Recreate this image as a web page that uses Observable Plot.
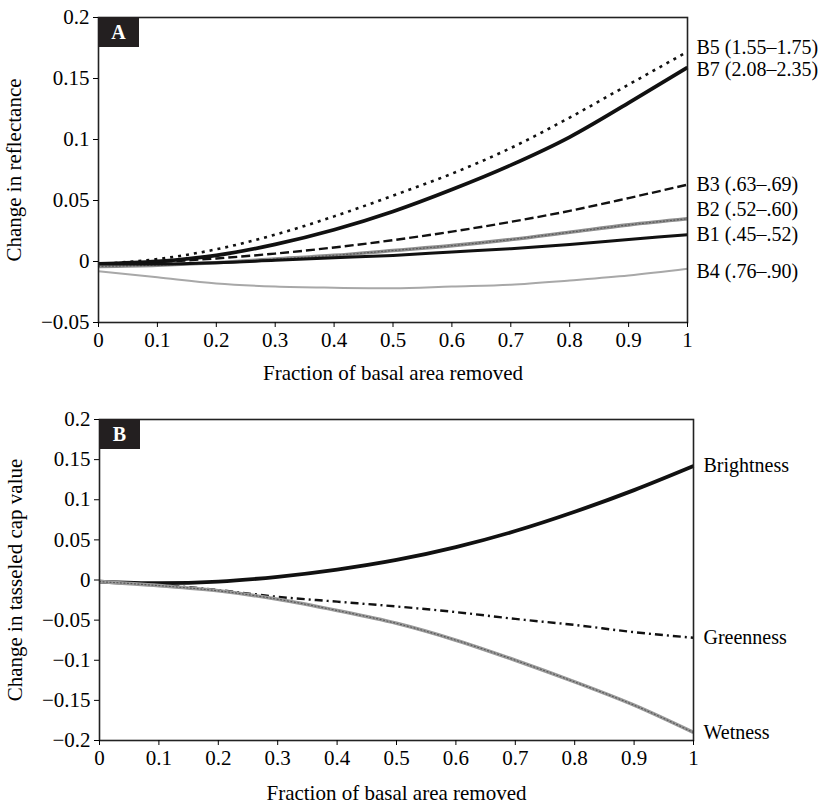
<!DOCTYPE html>
<html>
<head>
<meta charset="utf-8">
<script src="https://cdn.jsdelivr.net/npm/d3@7"></script>
<script src="https://cdn.jsdelivr.net/npm/@observablehq/plot@0.6"></script>
<style>
  html, body { margin: 0; padding: 0; background: white; }
  #chart svg { display: block; }
</style>
</head>
<body>
<div id="chart"></div>
<script>
// ---- Data ----
const fraction = [0, 0.1, 0.2, 0.3, 0.4, 0.5, 0.6, 0.7, 0.8, 0.9, 1];

// Panel A: change in reflectance by band
const bandNames = ["B5 (1.55–1.75)", "B7 (2.08–2.35)", "B3 (.63–.69)", "B2 (.52–.60)", "B1 (.45–.52)", "B4 (.76–.90)"];
const B5 = [-0.002, 0.002, 0.010, 0.022, 0.037, 0.054, 0.072, 0.093, 0.118, 0.145, 0.172];
const B7 = [-0.002, 0.000, 0.005, 0.014, 0.026, 0.041, 0.059, 0.079, 0.102, 0.130, 0.159];
const B3 = [-0.003, -0.0005, 0.0025, 0.0065, 0.0115, 0.0175, 0.0245, 0.0325, 0.0415, 0.052, 0.063];
const B2 = [-0.004, -0.003, -0.001, 0.002, 0.005, 0.009, 0.013, 0.018, 0.024, 0.030, 0.035];
const B1 = [-0.002, -0.002, -0.001, 0.001, 0.003, 0.005, 0.0078, 0.0105, 0.014, 0.018, 0.022];
const B4 = [-0.008, -0.013, -0.018, -0.0205, -0.0215, -0.022, -0.0205, -0.019, -0.0155, -0.0115, -0.006];

// Panel B: change in tasseled cap value
const capNames = ["Brightness", "Greenness", "Wetness"];
const brightness = [-0.002, -0.004, -0.002, 0.004, 0.013, 0.025, 0.041, 0.061, 0.085, 0.112, 0.142];
const greenness = [-0.002, -0.006, -0.0125, -0.021, -0.027, -0.033, -0.040, -0.0485, -0.056, -0.065, -0.072];
const wetness = [-0.002, -0.007, -0.0135, -0.024, -0.038, -0.054, -0.075, -0.100, -0.127, -0.156, -0.190];

const xTicks = [0, 0.1, 0.2, 0.3, 0.4, 0.5, 0.6, 0.7, 0.8, 0.9, 1];
const yTicksA = [-0.05, 0, 0.05, 0.1, 0.15, 0.2];
const yTicksB = [-0.2, -0.15, -0.1, -0.05, 0, 0.05, 0.1, 0.15, 0.2];

// ---- Styles ----
const stylesA = [
  {stroke: "#111", strokeWidth: 2.6, dash: "3,5", labelDy: -4},            // B5
  {stroke: "#111", strokeWidth: 3.8, dash: null, labelDy: 2},              // B7
  {stroke: "#111", strokeWidth: 2.4, dash: "9,4", labelDy: 0},             // B3
  {stroke: "#8e8e8e", strokeWidth: 3.6, dash: null, labelDy: -9, texture: true}, // B2
  {stroke: "#111", strokeWidth: 3.0, dash: null, labelDy: 0},              // B1
  {stroke: "#a8a8a8", strokeWidth: 2.0, dash: null, labelDy: 3}            // B4
];
const stylesB = [
  {stroke: "#111", strokeWidth: 3.8, dash: null},
  {stroke: "#111", strokeWidth: 2.4, dash: "8,4,2,4"},
  {stroke: "#9a9a9a", strokeWidth: 3.6, dash: null, texture: true}
];

const fmt = d3.format("~g");
const font = "Liberation Serif";

function rows(names, seriesList) {
  const out = [];
  names.forEach((name, i) => {
    seriesList[i].forEach((v, j) => out.push({series: name, x: fraction[j], y: v}));
  });
  return out;
}

function panelBox(letter) {
  return (index, scales, values, dims) => {
    const ns = "http://www.w3.org/2000/svg";
    const g = document.createElementNS(ns, "g");
    const r = document.createElementNS(ns, "rect");
    r.setAttribute("x", dims.marginLeft);
    r.setAttribute("y", dims.marginTop);
    r.setAttribute("width", 41);
    r.setAttribute("height", 30);
    r.setAttribute("fill", "#231f20");
    g.appendChild(r);
    const t = document.createElementNS(ns, "text");
    t.setAttribute("x", dims.marginLeft + 20.5);
    t.setAttribute("y", dims.marginTop + 22);
    t.setAttribute("text-anchor", "middle");
    t.setAttribute("fill", "white");
    t.setAttribute("font-weight", "bold");
    t.setAttribute("font-size", "20px");
    t.setAttribute("font-family", font);
    t.textContent = letter;
    g.appendChild(t);
    return g;
  };
}

function makePanel({names, seriesList, styles, yDomain, yTicks, yLabel, letter, height, margins, labelDx, xLabelOffset}) {
  const data = rows(names, seriesList);
  const marks = [];
  names.forEach((name, i) => {
    const s = styles[i];
    const sd = data.filter(d => d.series === name);
    marks.push(Plot.line(sd, {
      x: "x", y: "y", curve: "monotone-x",
      stroke: s.stroke, strokeWidth: s.strokeWidth,
      strokeDasharray: s.dash || undefined,
      strokeLinecap: "butt", strokeLinejoin: "round"
    }));
    if (s.texture) {
      marks.push(Plot.line(sd, {
        x: "x", y: "y", curve: "monotone-x",
        stroke: "#5a5a5a", strokeWidth: 1.2, strokeDasharray: "1,2.5"
      }));
    }
  });
  names.forEach((name, i) => {
    const s = styles[i];
    const last = seriesList[i][seriesList[i].length - 1];
    marks.push(Plot.text([{x: fraction[fraction.length - 1], y: last, t: name}], {
      x: "x", y: "y", text: "t", textAnchor: "start", dx: labelDx, dy: s.labelDy || 0,
      fontSize: 20, fontFamily: font, fill: "black"
    }));
  });
  marks.push(Plot.frame({stroke: "#222", strokeWidth: 1.6}));
  marks.push(Plot.axisY({ticks: yTicks, tickFormat: fmt, tickSize: 5, tickPadding: 4, fontSize: 21, fontFamily: font,
    label: yLabel, labelAnchor: "center", labelOffset: 92, labelArrow: "none"}));
  marks.push(Plot.axisX({ticks: xTicks, tickFormat: fmt, tickSize: 5, tickPadding: 5, fontSize: 21, fontFamily: font,
    label: "Fraction of basal area removed", labelAnchor: "center", labelOffset: xLabelOffset, labelArrow: "none"}));
  marks.push(panelBox(letter));
  return Plot.plot({
    width: 827,
    height,
    ...margins,
    x: {domain: [0, 1]},
    y: {domain: yDomain},
    style: {fontFamily: font, fontSize: "21px", color: "black", background: "white", overflow: "visible"},
    marks
  });
}

const chart = document.getElementById("chart");
chart.appendChild(makePanel({
  names: bandNames, seriesList: [B5, B7, B3, B2, B1, B4], styles: stylesA,
  yDomain: [-0.05, 0.2], yTicks: yTicksA, yLabel: "Change in reflectance", letter: "A",
  height: 395, margins: {marginTop: 17, marginBottom: 73, marginLeft: 98, marginRight: 140},
  labelDx: 9, xLabelOffset: 57
}));
chart.appendChild(makePanel({
  names: capNames, seriesList: [brightness, greenness, wetness], styles: stylesB,
  yDomain: [-0.2, 0.2], yTicks: yTicksB, yLabel: "Change in tasseled cap value", letter: "B",
  height: 410, margins: {marginTop: 24, marginBottom: 65, marginLeft: 99, marginRight: 134},
  labelDx: 10, xLabelOffset: 59
}));
</script>
</body>
</html>
